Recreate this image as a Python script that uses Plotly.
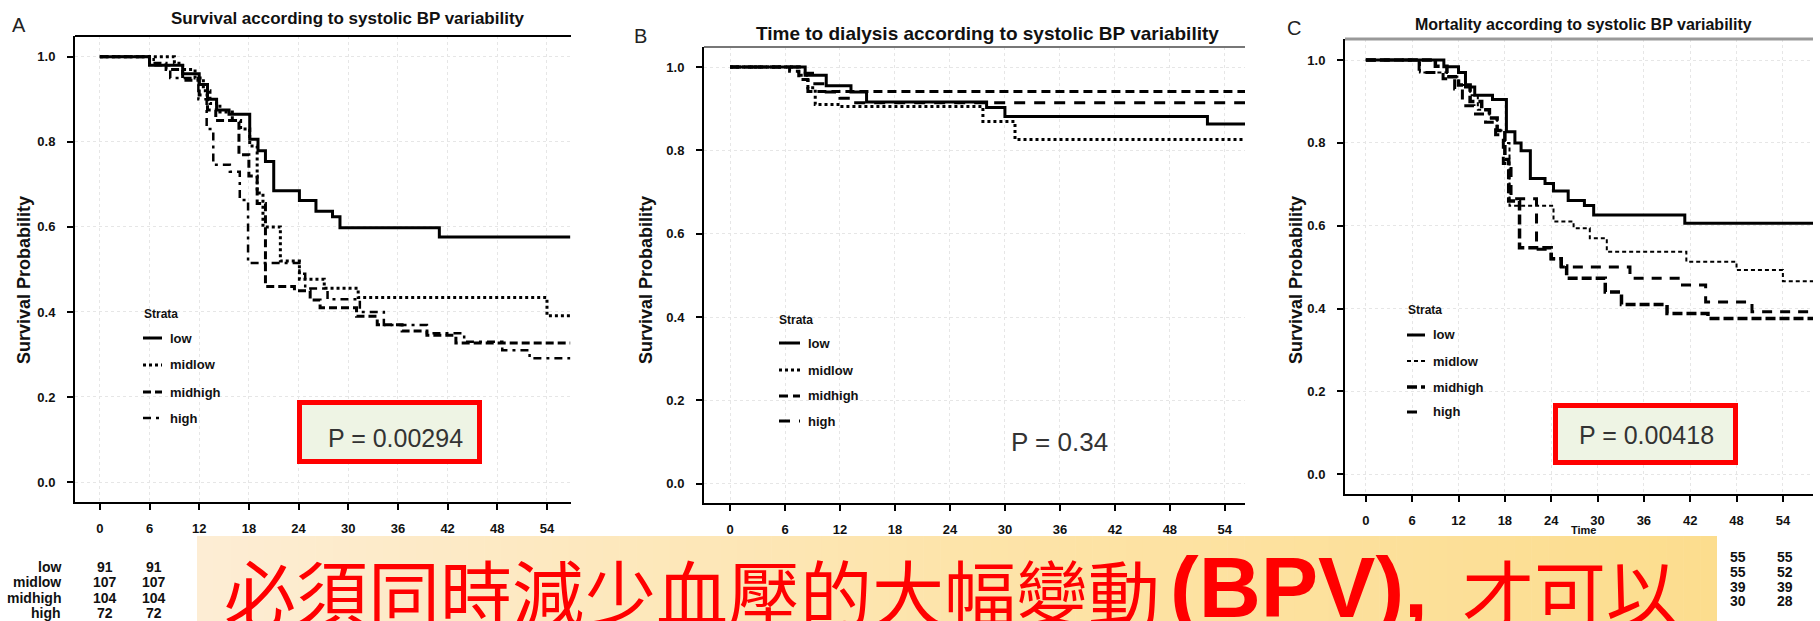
import plotly.graph_objects as go

W, H = 1820, 621

# ---------------- DATA ----------------
months = [0, 6, 12, 18, 24, 30, 36, 42, 48, 54]
prob_ticks = [0.0, 0.2, 0.4, 0.6, 0.8, 1.0]
prob_labels = ["0.0", "0.2", "0.4", "0.6", "0.8", "1.0"]
strata = ["low", "midlow", "midhigh", "high"]

# Panel A: Survival according to systolic BP variability
a_low_t = [0, 6, 10, 12, 13, 14.1, 15.6, 18.1, 19.1, 20, 21, 24.1, 26.1, 28.1, 29, 41, 56.8]
a_low_s = [1.0, 0.98, 0.96, 0.935, 0.90, 0.875, 0.865, 0.806, 0.779, 0.754, 0.685, 0.662, 0.637, 0.624, 0.598, 0.576, 0.576]
a_midlow_t = [0, 9, 10, 11.5, 12.5, 13.3, 14.5, 16, 17, 18.1, 19, 19.7, 21.8, 24.1, 27.1, 31.2, 54, 56.8]
a_midlow_s = [1.0, 0.985, 0.97, 0.95, 0.92, 0.89, 0.87, 0.85, 0.83, 0.79, 0.68, 0.60, 0.52, 0.477, 0.456, 0.434, 0.391, 0.391]
a_midhigh_t = [0, 6, 8, 10, 12, 13, 14, 16.8, 18, 19, 20, 23.5, 25.4, 26.6, 31, 33.5, 36.5, 39.5, 43, 56.8]
a_midhigh_s = [1.0, 0.985, 0.97, 0.945, 0.91, 0.875, 0.85, 0.77, 0.72, 0.655, 0.46, 0.45, 0.428, 0.41, 0.39, 0.37, 0.355, 0.345, 0.327, 0.327]
a_high_t = [0, 6.5, 8.5, 11.9, 12.9, 13.7, 15.7, 16.9, 17.9, 24.1, 24.8, 27.5, 31.4, 34.3, 39.5, 44, 48.6, 51.9, 56.8]
a_high_s = [1.0, 0.98, 0.95, 0.90, 0.83, 0.746, 0.73, 0.663, 0.515, 0.49, 0.455, 0.43, 0.40, 0.369, 0.35, 0.33, 0.31, 0.291, 0.291]
a_p = "P = 0.00294"
a_risk = {"low": [91, 91], "midlow": [107, 107], "midhigh": [104, 104], "high": [72, 72]}

# Panel B: Time to dialysis according to systolic BP variability
b_low_t = [0, 8.2, 10.5, 13.2, 14.9, 28, 30, 52.1, 56.2]
b_low_s = [1.0, 0.98, 0.955, 0.94, 0.916, 0.903, 0.881, 0.863, 0.863]
b_midlow_t = [0, 7.5, 8.5, 9.3, 12, 27.6, 31.1, 56.2]
b_midlow_s = [1.0, 0.98, 0.95, 0.91, 0.905, 0.869, 0.826, 0.826]
b_midhigh_t = [0, 6.5, 7.5, 8.5, 56.2]
b_midhigh_s = [1.0, 0.99, 0.97, 0.941, 0.941]
b_high_t = [0, 8, 9, 10.5, 12, 13.5, 56.2]
b_high_s = [1.0, 0.985, 0.96, 0.94, 0.925, 0.914, 0.914]
b_p = "P = 0.34"

# Panel C: Mortality according to systolic BP variability
c_low_t = [0, 10.1, 12, 12.9, 14.1, 16.4, 18.2, 19.3, 20.1, 21.3, 23.2, 24.3, 26.2, 28.3, 29.5, 41.3, 57.9]
c_low_s = [1.0, 0.984, 0.97, 0.935, 0.915, 0.905, 0.827, 0.80, 0.781, 0.714, 0.702, 0.684, 0.661, 0.649, 0.626, 0.606, 0.606]
c_midlow_t = [0, 7, 10.5, 12, 13.5, 14.5, 16, 17, 18, 18.6, 24.3, 26.9, 29, 31.2, 41.5, 48, 54, 57.9]
c_midlow_s = [1.0, 0.97, 0.96, 0.94, 0.915, 0.88, 0.86, 0.83, 0.80, 0.648, 0.61, 0.594, 0.57, 0.537, 0.513, 0.493, 0.466, 0.466]
c_midhigh_t = [0, 9, 10.5, 12, 13.5, 15, 16, 17, 18, 18.5, 19.9, 24, 25.3, 26, 31, 33.1, 39, 44.3, 57.9]
c_midhigh_s = [1.0, 0.985, 0.96, 0.94, 0.90, 0.88, 0.86, 0.83, 0.76, 0.66, 0.547, 0.52, 0.503, 0.473, 0.44, 0.41, 0.388, 0.376, 0.376]
c_high_t = [0, 6.9, 10, 11.5, 12.5, 14, 15.5, 16.8, 17.8, 18.8, 22.1, 24, 25.3, 34.2, 41, 44, 50, 57.9]
c_high_s = [1.0, 0.97, 0.955, 0.93, 0.89, 0.87, 0.85, 0.82, 0.75, 0.665, 0.543, 0.52, 0.50, 0.473, 0.457, 0.416, 0.392, 0.392]
c_p = "P = 0.00418"
c_risk = [[55, 55, 39, 30], [55, 52, 39, 28]]

banner_cjk_1 = "必須同時減少血壓的大幅變動"
banner_bpv = "(BPV),"
banner_cjk_2 = "才可以"

# ---------------- helpers ----------------
def px(x):
    return x / W

def py(y):
    return 1 - y / H

NARROW = "Liberation Sans Narrow, Arial Narrow, Liberation Sans, Arial"
SANS = "Liberation Sans, Arial, sans-serif"

fig = go.Figure()

panels = [
    dict(name="A", ax="x", ay="y", L=75, R=571, T=36, B=502, xr=[-3.0, 56.9], yr=[-0.047, 1.049],
         curves=[(a_low_t, a_low_s), (a_midlow_t, a_midlow_s), (a_midhigh_t, a_midhigh_s), (a_high_t, a_high_s)],
         styles=[("solid", 3), ("3px,3px", 3), ("8px,4px", 3), ("8px,5px,3px,5px", 2.5)]),
    dict(name="B", ax="x2", ay="y2", L=704, R=1245, T=47, B=503, xr=[-2.84, 56.2], yr=[-0.046, 1.048],
         curves=[(b_low_t, b_low_s), (b_midlow_t, b_midlow_s), (b_midhigh_t, b_midhigh_s), (b_high_t, b_high_s)],
         styles=[("solid", 3), ("3px,3px", 3), ("9px,5px", 3), ("11px,9px", 3)]),
    dict(name="C", ax="x3", ay="y3", L=1345, R=1813, T=39, B=494, xr=[-2.7, 57.9], yr=[-0.048, 1.051],
         curves=[(c_low_t, c_low_s), (c_midlow_t, c_midlow_s), (c_midhigh_t, c_midhigh_s), (c_high_t, c_high_s)],
         styles=[("solid", 3), ("4px,3px", 2), ("10px,4px", 3.5), ("10px,8px", 3)]),
]

for p in panels:
    for (t, s), (dash, w), name in zip(p["curves"], p["styles"], strata):
        fig.add_trace(go.Scatter(x=t, y=s, mode="lines", line=dict(color="black", width=w, dash=dash, shape="hv"),
                                 xaxis=p["ax"], yaxis=p["ay"], showlegend=False, name=name))

axis_common = dict(showline=True, linecolor="black", linewidth=2, ticks="outside", ticklen=6, tickwidth=2,
                   tickcolor="black", showgrid=True, gridcolor="#e6e6e6", griddash="dot", gridwidth=1,
                   zeroline=False, tickfont=dict(family=NARROW, size=13, color="#111", weight="bold"))

layout = dict(width=W, height=H, margin=dict(l=0, r=0, t=0, b=0), paper_bgcolor="white",
              plot_bgcolor="white", showlegend=False)
for i, p in enumerate(panels):
    sx = "" if i == 0 else str(i + 1)
    layout["xaxis" + sx] = dict(domain=[px(p["L"]), px(p["R"])], range=p["xr"], tickvals=months,
                                anchor="y" + sx, ticklabelstandoff=7, **axis_common)
    layout["yaxis" + sx] = dict(domain=[py(p["B"]), py(p["T"])], range=p["yr"], tickvals=prob_ticks,
                                ticktext=prob_labels, anchor="x" + sx, ticklabelstandoff=9, **axis_common)
fig.update_layout(**layout)

shapes = []
annotations = []

def ann(x, y, text, size, family=SANS, color="#111", weight="normal", xanchor="center", yanchor="middle", angle=0):
    annotations.append(dict(x=px(x), y=py(y), xref="paper", yref="paper", text=text, showarrow=False,
                            xanchor=xanchor, yanchor=yanchor, textangle=angle,
                            font=dict(family=family, size=size, color=color, weight=weight)))

def hline(x0, x1, y, color="black", width=2, dash="solid"):
    shapes.append(dict(type="line", xref="paper", yref="paper", x0=px(x0), x1=px(x1), y0=py(y), y1=py(y),
                       line=dict(color=color, width=width, dash=dash)))

# top frame lines
hline(75, 571, 36, "black", 2)
hline(704, 1245, 47, "#777", 2)
hline(1345, 1813, 39, "#999", 3)

# panel letters and titles
ann(19, 25, "A", 20, color="#222")
ann(640, 36, "B", 20, color="#222")
ann(1294, 28, "C", 20, color="#222")
ann(348, 18, "Survival according to systolic BP variability", 17, family=NARROW, weight="bold")
ann(988, 33, "Time to dialysis according to systolic BP variability", 19, family=NARROW, weight="bold")
ann(1583, 25, "Mortality according to systolic BP variability", 16, family=NARROW, weight="bold")

# y titles
for x in (24, 646, 1296):
    ann(x, 280, "Survival Probability", 18, weight="bold", angle=-90)

# legends
legend_pos = [
    dict(sx=142, sy=314, lx0=143, lx1=162, tx=168, ys=[338, 365, 392, 418], p=panels[0]),
    dict(sx=777, sy=320, lx0=779, lx1=800, tx=806, ys=[343, 370, 396, 421], p=panels[1]),
    dict(sx=1406, sy=310, lx0=1407, lx1=1425, tx=1431, ys=[335, 361, 387, 412], p=panels[2]),
]
for lg in legend_pos:
    ann(lg["sx"], lg["sy"], "Strata", 12, family=NARROW, weight="bold", xanchor="left")
    for y, name, (dash, w) in zip(lg["ys"], strata, lg["p"]["styles"]):
        hline(lg["lx0"], lg["lx1"], y, "black", w, dash)
        ann(lg["tx"], y, name, 13, family=NARROW, weight="bold", xanchor="left")

# P-value boxes
def pbox(x0, y0, x1, y1):
    shapes.append(dict(type="rect", xref="paper", yref="paper", x0=px(x0 + 2.5), x1=px(x1 - 2.5),
                       y0=py(y0 + 2.5), y1=py(y1 - 2.5), fillcolor="#eef4e4",
                       line=dict(color="#ff0000", width=5), layer="above"))

pbox(297, 400, 482, 464)
pbox(1553, 403, 1738, 465)
ann(395, 438, a_p, 25, family=NARROW, color="#333")
ann(1059, 442, b_p, 26, family=NARROW, color="#333")
ann(1646, 435, c_p, 25, family=NARROW, color="#333")

# "Time" label (mostly hidden in original)
ann(1583, 530, "Time", 11, family=NARROW, weight="bold")

# risk table (visible parts)
risk_y = [567, 582, 598, 613]
for y, name in zip(risk_y, strata):
    ann(63, y, name, 14, family=NARROW, weight="bold", xanchor="right")
    ann(105, y, str(a_risk[name][0]), 14, family=NARROW, weight="bold")
    ann(154, y, str(a_risk[name][1]), 14, family=NARROW, weight="bold")
risk_yc = [557, 572, 587, 601]
for col_x, col in zip([1738, 1785], c_risk):
    for y, v in zip(risk_yc, col):
        ann(col_x, y, str(v), 14, family=NARROW, weight="bold")

# banner with gradient
bx0, bx1, by0, by1 = 197, 1717, 536, 621
stops = [(0.0, (253, 237, 212)), (0.5, (253, 228, 170)), (1.0, (252, 221, 142))]

def grad(f):
    for (f0, c0), (f1, c1) in zip(stops[:-1], stops[1:]):
        if f0 <= f <= f1:
            u = (f - f0) / (f1 - f0)
            return tuple(round(a + (b - a) * u) for a, b in zip(c0, c1))
    return stops[-1][1]

n = 90
for i in range(n):
    xa = bx0 + (bx1 - bx0) * i / n
    xb = bx0 + (bx1 - bx0) * (i + 1) / n + 0.6
    c = grad((i + 0.5) / n)
    shapes.append(dict(type="rect", xref="paper", yref="paper", x0=px(xa), x1=px(min(xb, bx1)),
                       y0=py(by1), y1=py(by0), fillcolor="rgb(%d,%d,%d)" % c, line=dict(width=0),
                       layer="above"))

annotations.append(dict(x=px(222), y=py(535), xref="paper", yref="paper", text=banner_cjk_1, showarrow=False,
                        xanchor="left", yanchor="top",
                        font=dict(family="Noto Sans CJK TC", size=72, color="#ff0000")))
annotations.append(dict(x=px(1168), y=py(537), xref="paper", yref="paper", text=banner_bpv, showarrow=False,
                        xanchor="left", yanchor="top",
                        font=dict(family=SANS, size=86, color="#ff0000", weight="bold")))
annotations.append(dict(x=px(1460), y=py(535), xref="paper", yref="paper", text=banner_cjk_2, showarrow=False,
                        xanchor="left", yanchor="top",
                        font=dict(family="Noto Sans CJK TC", size=72, color="#ff0000")))

fig.update_layout(shapes=shapes, annotations=annotations)
fig.write_html("out.html")
